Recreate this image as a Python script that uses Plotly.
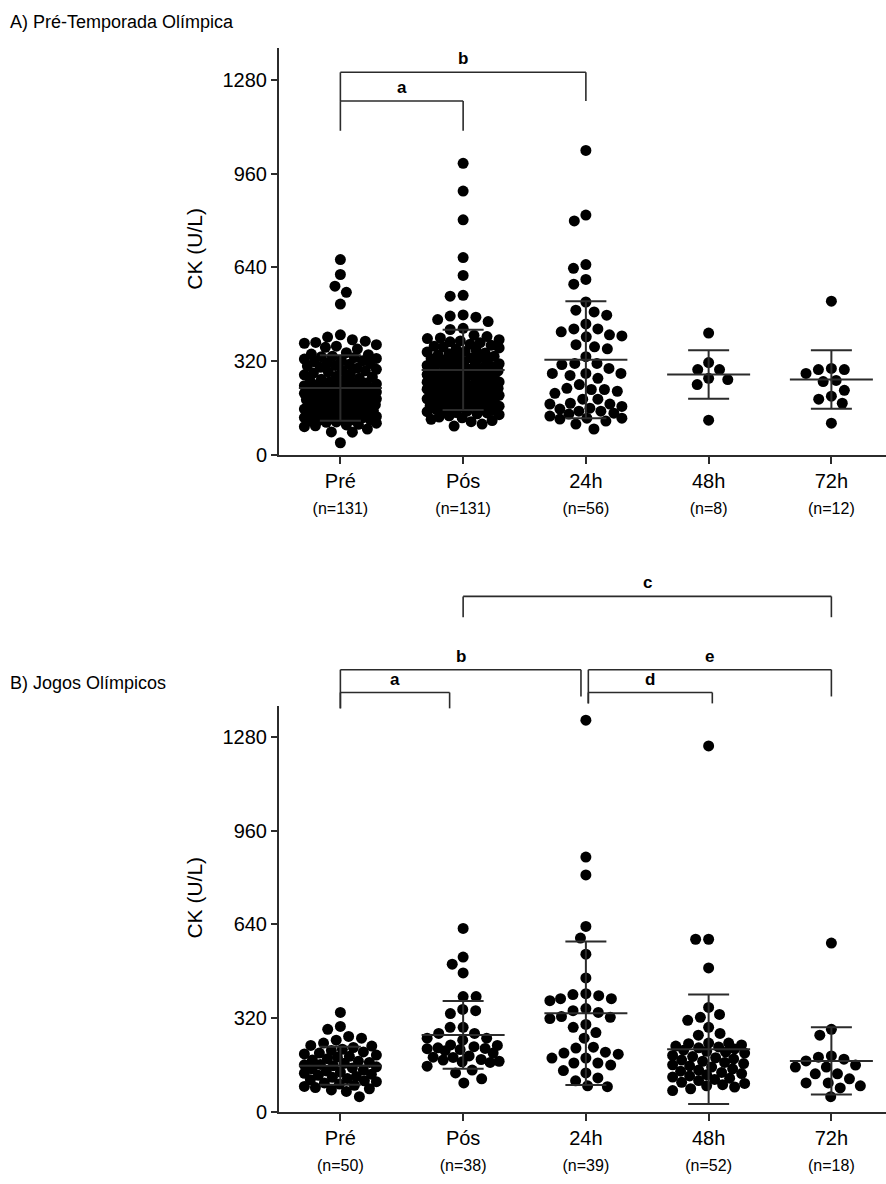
import math
import plotly.graph_objects as go

# ---------------- data ----------------
categories = ["Pré", "Pós", "24h", "48h", "72h"]
n_A = [131, 131, 56, 8, 12]
n_B = [50, 38, 39, 52, 18]
yticks = [0, 320, 640, 960, 1280]

A_pre = [667, 616, 576, 555, 515,
         410, 402, 393, 388, 384, 381, 376, 371, 367, 361,
         349, 344, 342, 337, 335, 332, 329,
         327, 323, 321, 318, 314, 312, 309, 305, 303, 299,
         296, 292, 289, 287, 283, 279, 276, 273, 268, 266, 261,
         258, 256, 251, 249, 247, 242, 240, 238, 233, 231,
         228, 225, 223, 221, 217, 215, 214, 210, 207, 204, 202, 200,
         198, 195, 193, 191, 188, 185, 183, 181, 178, 175, 174, 171,
         168, 165, 163, 161, 159, 156, 153, 150, 148, 146, 143, 140,
         138, 135, 133, 131, 127, 126, 123, 120, 118, 116, 112, 111,
         108, 104, 102, 99, 96,
         245, 236, 224, 219, 208, 203, 195, 190, 184, 177, 169, 164,
         158, 152, 144, 137, 129, 124, 119, 134, 181,
         88, 78, 77, 41]
A_pos = [996, 901, 803, 674, 613, 545, 542,
         478, 474, 470, 455, 462, 432, 428,
         408, 404, 399, 397, 393, 389, 386, 383,
         378, 374, 371, 368, 365, 361, 357, 353, 351,
         348, 345, 341, 337, 334, 331, 328, 324, 321,
         318, 315, 311, 308, 305, 302, 300, 296, 293, 290,
         287, 285, 281, 278, 274, 272, 269, 266, 263, 260,
         257, 254, 252, 248, 245, 243, 239, 236, 233, 229,
         227, 224, 221, 218, 216, 212, 209, 206, 203, 201,
         197, 194, 191, 188, 186, 182, 179, 176, 173, 170,
         167, 164, 162, 158, 155, 152, 149, 147, 143, 140,
         137, 133, 129, 126, 121, 117, 113,
         283, 276, 268, 262, 249, 241, 235, 226, 217, 211, 204,
         196, 189, 181, 174, 166, 159, 151, 144, 310, 330, 298,
         105, 98]
A_24h = [1040, 819, 799, 650, 637, 599, 583, 522, 488, 477, 494, 447, 430,
         420, 430, 410, 403, 406, 369, 362, 376, 335, 312, 308, 312, 278,
         271, 278, 295, 261, 278, 227, 223, 210, 240, 217, 223, 190, 190,
         173, 173, 176, 142, 149, 139, 149, 156, 159, 125, 122, 115, 125,
         88, 132, 105, 165]
A_48h = [416, 315, 291, 291, 257, 261, 240, 118]
A_72h = [525, 291, 278, 291, 295, 250, 254, 220, 200, 190, 176, 108]

B_pre = [339, 291, 281, 257, 251, 244, 234, 224, 51,
         226, 219, 213, 209, 204, 200, 197, 193, 189, 186, 181, 176, 172,
         168, 165, 161, 157, 153, 149, 146, 142, 139, 135, 131, 128, 124,
         120, 117, 113, 109, 105, 102, 98, 94, 90, 86, 82, 78, 74, 69, 160]
B_pos = [626, 528, 504, 474, 393, 393, 349, 335, 345, 288, 288, 267, 251,
         267, 251, 244, 228, 216, 208, 212, 222, 215, 226, 218, 185, 178,
         170, 172, 168, 176, 186, 190, 132, 142, 98, 112, 155, 200]
B_24h = [1338, 870, 809, 633, 593, 538, 457, 386, 400, 396, 403, 379, 386,
         352, 339, 345, 318, 322, 325, 298, 288, 251, 220, 203, 217, 196,
         183, 166, 159, 166, 183, 200, 132, 105, 85, 88, 115, 270, 140]
B_48h = [1250, 589, 589, 491, 356, 322, 288, 312, 332, 267, 261, 234, 234,
         232, 228, 224, 221, 218, 214, 210, 206, 203, 200,
         192, 188, 184, 180, 176, 172, 168, 164, 160, 156, 152,
         146, 142, 138, 134, 130, 126, 122, 118, 114, 110, 106,
         100, 96, 92, 88, 84, 78, 72]
B_72h = [576, 281, 261, 190, 179, 159, 173, 186, 152, 152, 129, 129, 112,
         98, 88, 81, 98, 51]

# mean and SD
A_mean = [228, 290, 325, 274, 257]
A_sd = [112, 137, 200, 83, 100]
B_mean = [157, 262, 336, 213, 173]
B_sd = [65, 116, 245, 187, 115]

groups_A = [A_pre, A_pos, A_24h, A_48h, A_72h]
groups_B = [B_pre, B_pos, B_24h, B_48h, B_72h]

# ---------------- layout geometry (pixels) ----------------
W, H = 886, 1184
X0 = 279
XR = [-0.5, 4.445]
A_BOT, A_TOP, YR_A = 459, 48.5, [0, 1390]
B_BOT, B_TOP, YR_B = 1122, 713, [0, 1385]
kx = (W - X0) / (XR[1] - XR[0])
kyA = (A_BOT - A_TOP) / (YR_A[1] - YR_A[0])
kyB = (B_BOT - B_TOP) / (YR_B[1] - YR_B[0])
MARK = 11
DOT = 13.0      # spacing between neighbouring dot centres
CAP = 36.0      # half width of a swarm
LINE = "#2b2b2b"
FONT = "Liberation Sans, Arial, sans-serif"


def py(p):
    return 1 - p / H


def swarm(values, ky):
    """Greedy beeswarm offsets (in category units), width-limited."""
    order = sorted(range(len(values)), key=lambda i: -values[i])
    placed = []
    off = [0.0] * len(values)
    side = 1
    for i in order:
        y = values[i] * ky
        near = [(a, b) for a, b in placed if abs(b - y) < DOT]
        cands = [0.0]
        for a, b in near:
            dx = math.sqrt(DOT * DOT - (b - y) ** 2)
            cands += [a + dx, a - dx]
        cands = sorted(set(cands), key=lambda c: (round(abs(c), 6), side * c))
        chosen = None
        for c in cands:
            if abs(c) <= CAP and all((c - a) ** 2 + (y - b) ** 2 >= DOT * DOT - 1e-6 for a, b in near):
                chosen = c
                break
        if chosen is None:
            best, bestd = 0.0, -1.0
            c = -CAP
            while c <= CAP + 1e-9:
                d = min((c - a) ** 2 + (y - b) ** 2 for a, b in near)
                if d > bestd + 1e-9 or (abs(d - bestd) < 1e-9 and abs(c) < abs(best)):
                    best, bestd = c, d
                c += 1.0
            chosen = best
        side = -side
        placed.append((chosen, y))
        off[i] = chosen / kx
    return off


fig = go.Figure()


def add_panel(groups, means, sds, ky, xa, ya):
    for gi, vals in enumerate(groups):
        offs = swarm(vals, ky)
        fig.add_trace(go.Scatter(
            x=[gi + o for o in offs], y=vals, mode="markers",
            marker=dict(color="black", size=MARK, line=dict(width=0)),
            xaxis=xa, yaxis=ya, showlegend=False, hoverinfo="y", cliponaxis=False))
    for gi in range(len(groups)):
        m, s = means[gi], sds[gi]
        wm, wc = 41.5 / kx, 20.5 / kx
        lo = max(m - s, 0)
        fig.add_trace(go.Scatter(
            x=[gi - wm, gi + wm, None, gi, gi, None, gi - wc, gi + wc, None, gi - wc, gi + wc],
            y=[m, m, None, lo, m + s, None, m + s, m + s, None, lo, lo],
            mode="lines", line=dict(color=LINE, width=2),
            xaxis=xa, yaxis=ya, showlegend=False, hoverinfo="skip"))


add_panel(groups_A, A_mean, A_sd, kyA, "x", "y")
add_panel(groups_B, B_mean, B_sd, kyB, "x2", "y2")


def xaxis_cfg(ns, anchor):
    return dict(domain=[X0 / W, 1.0], range=XR, anchor=anchor,
                showline=True, linecolor=LINE, linewidth=2,
                ticks="outside", ticklen=7, tickwidth=2, tickcolor=LINE,
                showgrid=False, zeroline=False,
                tickvals=list(range(len(categories))),
                ticktext=[f"{c}<br><span style='font-size:16px'>(n={n})</span>"
                          for c, n in zip(categories, ns)],
                tickfont=dict(family=FONT, size=20, color="black"))


def yaxis_cfg(dom, rng, anchor):
    return dict(domain=dom, range=rng, anchor=anchor,
                showline=True, linecolor=LINE, linewidth=2,
                ticks="outside", ticklen=6, tickwidth=2, tickcolor=LINE,
                showgrid=False, zeroline=False, tickvals=yticks,
                tickfont=dict(family=FONT, size=20, color="black"))


shapes, annots = [], []


def bracket(xref, x1, x2, ytop, yl, yr, label):
    for (xa, ya, xb, yb) in [(x1, ytop, x2, ytop), (x1, ytop, x1, yl), (x2, ytop, x2, yr)]:
        shapes.append(dict(type="line", xref=xref, yref="paper",
                           x0=xa, x1=xb, y0=py(ya), y1=py(yb),
                           line=dict(color=LINE, width=1.6)))
    annots.append(dict(xref=xref, yref="paper", x=(x1 + x2) / 2, y=py(ytop - 2),
                       text=f"<b>{label}</b>", showarrow=False, yanchor="bottom",
                       font=dict(family=FONT, size=17, color="black")))


# panel A brackets
bracket("x", 0, 1, 102, 132, 132, "a")
bracket("x", 0, 2, 73, 102, 102, "b")
# panel B brackets
bracket("x2", 1, 4, 602, 623, 623, "c")
bracket("x2", 0, 1.96, 676, 715, 703, "b")
bracket("x2", 2.02, 4, 676, 710, 703, "e")
bracket("x2", 0, 0.89, 699, 715, 715, "a")
bracket("x2", 2.02, 3.03, 699, 710, 710, "d")

annots += [
    dict(xref="paper", yref="paper", x=8 / W, y=py(22), xanchor="left", yanchor="middle",
         text="A) Pré-Temporada Olímpica", showarrow=False,
         font=dict(family=FONT, size=18, color="black")),
    dict(xref="paper", yref="paper", x=8 / W, y=py(689), xanchor="left", yanchor="middle",
         text="B) Jogos Olímpicos", showarrow=False,
         font=dict(family=FONT, size=18, color="black")),
    dict(xref="paper", yref="paper", x=195 / W, y=py(251), textangle=-90,
         text="CK (U/L)", showarrow=False, xanchor="center", yanchor="middle",
         font=dict(family=FONT, size=21, color="black")),
    dict(xref="paper", yref="paper", x=195 / W, y=py(906), textangle=-90,
         text="CK (U/L)", showarrow=False, xanchor="center", yanchor="middle",
         font=dict(family=FONT, size=21, color="black")),
]

fig.update_layout(
    width=W, height=H, autosize=False,
    margin=dict(l=0, r=0, t=0, b=0, pad=0),
    paper_bgcolor="white", plot_bgcolor="white",
    xaxis=xaxis_cfg(n_A, "y"),
    yaxis=yaxis_cfg([py(A_BOT), py(A_TOP)], YR_A, "x"),
    xaxis2=xaxis_cfg(n_B, "y2"),
    yaxis2=yaxis_cfg([py(B_BOT), py(B_TOP)], YR_B, "x2"),
    shapes=shapes, annotations=annots,
    font=dict(family=FONT, color="black"),
)

fig.write_html("out.html", config={"displayModeBar": False},
               post_script="document.body.style.margin='0';")
